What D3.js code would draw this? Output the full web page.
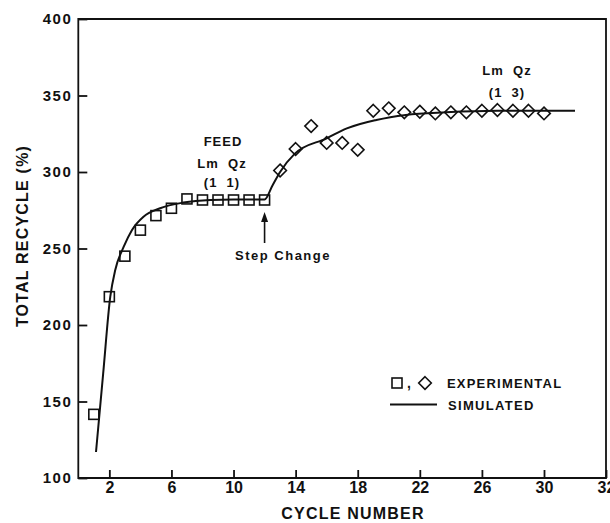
<!DOCTYPE html>
<html>
<head>
<meta charset="utf-8">
<script src="https://cdn.jsdelivr.net/npm/d3@7"></script>
<style>
  html, body { margin: 0; padding: 0; background: #fff; }
  svg { display: block; }
  text { font-family: "Liberation Sans", Arial, sans-serif; fill: #111; }
</style>
</head>
<body>
<svg id="chart" width="610" height="523"></svg>
<script>
// ---- data ----
const squareCycles = [1, 2, 3, 4, 5, 6, 7, 8, 9, 10, 11, 12];
const squareValues = [141.6, 218.5, 245, 262, 271.5, 276.3, 282.4, 281.7, 281.7, 281.7, 281.7, 281.7];

const diamondCycles = [13, 14, 15, 16, 17, 18, 19, 20, 21, 22, 23, 24, 25, 26, 27, 28, 29, 30];
const diamondValues = [301, 315, 330, 319, 319, 314.5, 340, 341.6, 339, 339.4, 338.3, 339, 339, 340, 340.5, 340, 340, 338.3];

const simCycles = [1.14, 1.6, 2.06, 2.38, 2.92, 3.45, 4.2, 5.27, 6.77, 8.5, 10, 12, 12.5, 13, 13.95, 16, 17.3, 19.2, 21.1, 23.7, 27, 31];
const simValues = [117, 168, 218.5, 236, 251, 262, 270.8, 276.3, 280, 281.7, 282, 282, 291, 300, 312, 322, 328.5, 334, 337.3, 339, 340, 340];

const xTicks = [2, 6, 10, 14, 18, 22, 26, 30, 32];
const yTicks = [100, 150, 200, 250, 300, 350, 400];

const stepChangeCycle = 12;
const stepArrowFrom = 253.6, stepArrowTo = 273.9;

// ---- layout ----
const svg = d3.select("#chart");
const mLeft = 78.3, mRight = 606, mTop = 19, mBottom = 478;

const x = d3.scaleLinear().domain([0, 30, 32]).range([mLeft, 544, mRight]);
const y = d3.scaleLinear().domain([100, 400]).range([mBottom, mTop]);

const ink = "#111";

// x axis
const xAxis = svg.append("g")
  .attr("transform", `translate(0,${mBottom})`)
  .call(d3.axisBottom(x).tickValues(xTicks).tickSizeInner(-8).tickSizeOuter(0).tickPadding(4));
xAxis.select(".domain").remove();
xAxis.selectAll("line").attr("stroke", ink).attr("stroke-width", 1.8);
xAxis.selectAll("text").attr("font-size", 16).attr("font-weight", "bold").style("font-family", "'Liberation Sans', Arial, sans-serif").attr("fill", ink);

// y axis
const yAxis = svg.append("g")
  .attr("transform", `translate(${mLeft},0)`)
  .call(d3.axisLeft(y).tickValues(yTicks).tickSizeInner(-9).tickSizeOuter(0).tickPadding(6));
yAxis.select(".domain").remove();
yAxis.selectAll("line").attr("stroke", ink).attr("stroke-width", 1.8);
yAxis.selectAll("text").attr("font-size", 15).attr("font-weight", "bold").attr("letter-spacing", 1.5).style("font-family", "'Liberation Sans', Arial, sans-serif").attr("fill", ink);

// frame
svg.append("path")
  .attr("d", `M${x(0)},${y(400)}L${x(32)},${y(400)}L${x(32)},${y(100)}L${x(0)},${y(100)}Z`)
  .attr("fill", "none").attr("stroke", ink).attr("stroke-width", 1.8);

// simulated curve
const line = d3.line().x(d => x(d[0])).y(d => y(d[1])).curve(d3.curveMonotoneX);
svg.append("path")
  .datum(simCycles.map((c, i) => [c, simValues[i]]))
  .attr("d", line)
  .attr("fill", "none").attr("stroke", ink).attr("stroke-width", 2);

// squares
const sq = 10;
svg.append("g").selectAll("rect")
  .data(squareCycles.map((c, i) => [c, squareValues[i]]))
  .join("rect")
  .attr("x", d => x(d[0]) - sq / 2)
  .attr("y", d => y(d[1]) - sq / 2)
  .attr("width", sq).attr("height", sq)
  .attr("fill", "none").attr("stroke", ink).attr("stroke-width", 1.6);

// diamonds
const dm = 6.3;
const diamondPath = (cx, cy) => `M${cx},${cy - dm}L${cx + dm},${cy}L${cx},${cy + dm}L${cx - dm},${cy}Z`;
svg.append("g").selectAll("path")
  .data(diamondCycles.map((c, i) => [c, diamondValues[i]]))
  .join("path")
  .attr("d", d => diamondPath(x(d[0]), y(d[1])))
  .attr("fill", "none").attr("stroke", ink).attr("stroke-width", 1.6);

// annotations
function label(txt, cx, cy, size, ls) {
  svg.append("text")
    .attr("x", cx).attr("y", cy)
    .attr("text-anchor", "middle")
    .attr("dominant-baseline", "central")
    .attr("font-size", size)
    .attr("font-weight", "bold")
    .attr("letter-spacing", ls)
    .attr("xml:space", "preserve")
    .style("white-space", "pre")
    .text(txt);
}
label("FEED", 223, 141, 13, 1);
label("Lm  Qz", 222, 163.5, 13, 1);
label("(1  1)", 222, 182, 13, 1);
label("Lm  Qz", 507, 70, 13, 1);
label("(1  3)", 507, 92, 13, 1);
label("Step Change", 283, 255, 13, 1.5);

// arrow
const ax = x(stepChangeCycle);
svg.append("line")
  .attr("x1", ax).attr("x2", ax)
  .attr("y1", y(stepArrowFrom)).attr("y2", y(stepArrowTo) + 6)
  .attr("stroke", ink).attr("stroke-width", 1.6);
svg.append("path")
  .attr("d", `M${ax},${y(stepArrowTo)}L${ax - 3.5},${y(stepArrowTo) + 10}L${ax + 3.5},${y(stepArrowTo) + 10}Z`)
  .attr("fill", ink);

// legend
const lg = svg.append("g");
lg.append("rect").attr("x", 392).attr("y", 378).attr("width", 10).attr("height", 10)
  .attr("fill", "none").attr("stroke", ink).attr("stroke-width", 1.6);
lg.append("text").attr("x", 407).attr("y", 388).attr("font-size", 14).attr("font-weight", "bold").text(",");
lg.append("path").attr("d", diamondPath(425, 383))
  .attr("fill", "none").attr("stroke", ink).attr("stroke-width", 1.6);
lg.append("text").attr("x", 447).attr("y", 383).attr("dominant-baseline", "central")
  .attr("font-size", 13).attr("font-weight", "bold").attr("letter-spacing", 1.2).text("EXPERIMENTAL");
lg.append("line").attr("x1", 390).attr("x2", 437).attr("y1", 404.5).attr("y2", 404.5)
  .attr("stroke", ink).attr("stroke-width", 2);
lg.append("text").attr("x", 448).attr("y", 405).attr("dominant-baseline", "central")
  .attr("font-size", 13).attr("font-weight", "bold").attr("letter-spacing", 1.3).text("SIMULATED");

// axis titles
svg.append("text")
  .attr("x", 353).attr("y", 513)
  .attr("text-anchor", "middle").attr("dominant-baseline", "central")
  .attr("font-size", 16).attr("font-weight", "bold").attr("letter-spacing", 1.2)
  .text("CYCLE NUMBER");
svg.append("text")
  .attr("transform", "translate(22,236) rotate(-90)")
  .attr("text-anchor", "middle").attr("dominant-baseline", "central")
  .attr("font-size", 16).attr("font-weight", "bold").attr("letter-spacing", 1.2)
  .text("TOTAL RECYCLE (%)");
</script>
</body>
</html>
